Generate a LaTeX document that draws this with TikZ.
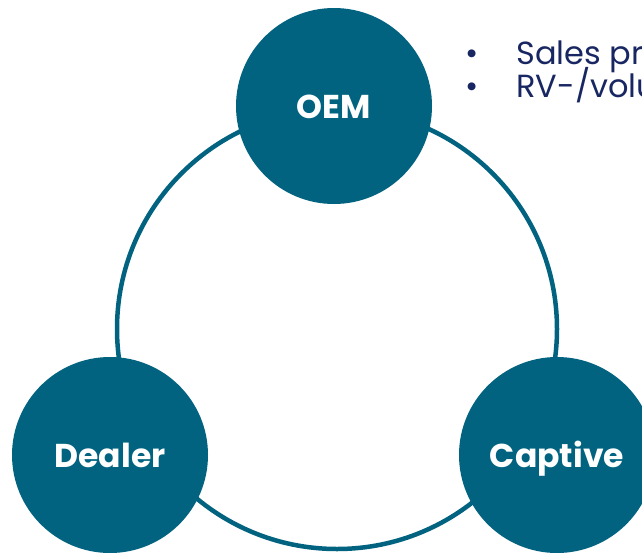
\documentclass[tikz,border=0pt]{standalone}
\usepackage{fontspec}
\setmainfont{Poppins}
\usepackage{tikz}
\usetikzlibrary{positioning}
\definecolor{teal}{RGB}{2,99,128}
\definecolor{navy}{RGB}{24,38,98}
\begin{document}
\begin{tikzpicture}[x=1pt,y=-1pt,
        party node/.style={circle,fill=teal,inner sep=0pt,minimum size=196pt,
          text height=24pt,text depth=0pt,
          text=white,font=\fontsize{33}{33}\selectfont\bfseries},
        bullet text/.style={anchor=base west,text=navy,font=\fontsize{32}{33}\selectfont}]
        \useasboundingbox (0,0) rectangle (642,552);
        \draw[teal,line width=4.5pt] (337,329) circle (220);
        \node[party node] (oem) at (334,106) {OEM};
        \node[party node] (dealer) at (110,455) {Dealer};
        \node[party node] (captive) at (557,455) {Captive};
        
        \node[bullet text] (b1) at (462,64.5) {\makebox[51pt][l]{\textbullet}Sales pr};
        \node[bullet text] (b2) at (462,97.5) {\makebox[51pt][l]{\textbullet}RV-/volu};
    \end{tikzpicture}
\end{document}
